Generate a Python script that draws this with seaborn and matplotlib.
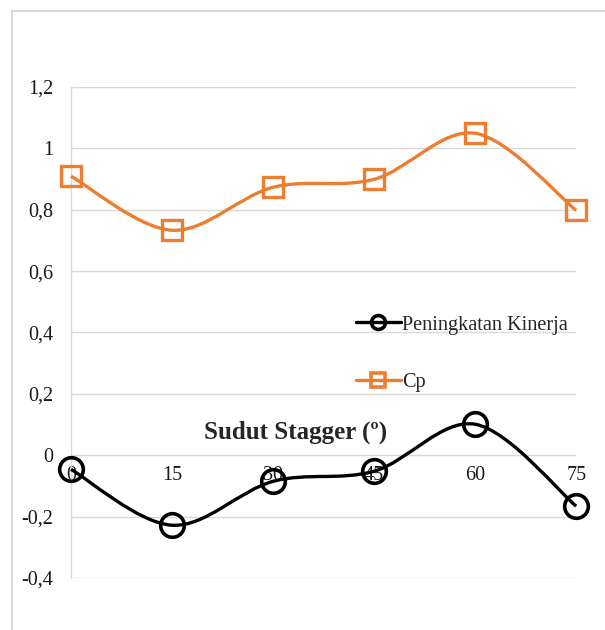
import numpy as np
import pandas as pd
import matplotlib
matplotlib.use("Agg")
import matplotlib.pyplot as plt
from matplotlib.path import Path
from matplotlib.patches import PathPatch, Rectangle
from matplotlib.lines import Line2D
import seaborn as sns

# data
sudut = ["0", "15", "30", "45", "60", "75"]
cp = [0.909, 0.733, 0.873, 0.899, 1.049, 0.798]
kinerja = [-0.046, -0.228, -0.085, -0.052, 0.101, -0.166]

orange = "#ED7D31"

sns.set_style("white")
plt.rcParams["font.family"] = ["Liberation Serif", "DejaVu Serif"]

fig = plt.figure(figsize=(6.05, 6.30), dpi=100)
ax = fig.add_axes([0.1174, 0.0825, 0.8350, 0.7795])

# outer chart border (Excel chart area)
fig.patches.append(Rectangle((12 / 605, -0.05), 1.2, (630 - 11) / 630 + 0.05,
                             transform=fig.transFigure, fill=False,
                             edgecolor="#d9d9d9", linewidth=1.5))

xs = np.arange(len(sudut))


def smooth_path(x, y):
    # Excel-like smoothed line: Catmull-Rom converted to cubic Bezier segments
    x = np.asarray(x, float)
    y = np.asarray(y, float)
    verts = [(x[0], y[0])]
    codes = [Path.MOVETO]
    n = len(x)
    for i in range(n - 1):
        p0 = (x[i - 1], y[i - 1]) if i > 0 else (x[i], y[i])
        p1 = (x[i], y[i])
        p2 = (x[i + 1], y[i + 1])
        p3 = (x[i + 2], y[i + 2]) if i + 2 < n else (x[i + 1], y[i + 1])
        c1 = (p1[0] + (p2[0] - p0[0]) / 6, p1[1] + (p2[1] - p0[1]) / 6)
        c2 = (p2[0] - (p3[0] - p1[0]) / 6, p2[1] - (p3[1] - p1[1]) / 6)
        verts += [c1, c2, p2]
        codes += [Path.CURVE4] * 3
    return Path(verts, codes)


ax.spines["bottom"].set_position(("data", 0))

for vals, col in [(cp, orange), (kinerja, "black")]:
    ax.add_patch(PathPatch(smooth_path(xs, vals), facecolor="none",
                           edgecolor=col, linewidth=2.4, zorder=3, clip_on=False))

df = pd.DataFrame({"x": np.concatenate([xs, xs]),
                   "y": cp + kinerja,
                   "seri": ["Cp"] * 6 + ["Peningkatan Kinerja"] * 6})
sns.lineplot(data=df[df.seri == "Cp"], x="x", y="y", ax=ax, linestyle="",
             marker="s", markersize=14, markerfacecolor="none",
             markeredgecolor=orange, markeredgewidth=2.4, color=orange,
             zorder=4, clip_on=False)
sns.lineplot(data=df[df.seri != "Cp"], x="x", y="y", ax=ax, linestyle="",
             marker="o", markersize=17, markerfacecolor="none",
             markeredgecolor="black", markeredgewidth=2.6, color="black",
             zorder=4, clip_on=False)

ax.set_xlim(0, 5)
ax.set_ylim(-0.4, 1.2)
yt = np.round(np.arange(-0.4, 1.21, 0.2), 1)
ax.set_yticks(yt)
ax.set_yticklabels([("%g" % v).replace(".", ",") for v in yt])
ax.set_xticks(xs)
ax.set_xticklabels(sudut)
ax.grid(axis="y", color="#d9d9d9", linewidth=1)
ax.grid(axis="x", visible=False)
ax.set_xlabel("")
ax.set_ylabel("")
ax.tick_params(axis="both", length=0, labelsize=14.5, labelcolor="#1a1a1a")
ax.tick_params(axis="y", pad=13)
ax.tick_params(axis="x", pad=8)
for s in ["top", "right", "bottom"]:
    ax.spines[s].set_visible(False)
ax.spines["left"].set_color("#d9d9d9")
ax.spines["left"].set_linewidth(1)

ax.text(2.22, 0.075, "Sudut Stagger (º)", fontsize=18, fontweight="bold",
        ha="center", va="center")

handles = [Line2D([], [], color="black", linewidth=2.4, marker="o", markersize=10,
                  markerfacecolor="none", markeredgewidth=2.6),
           Line2D([], [], color=orange, linewidth=2.4, marker="s", markersize=9.5,
                  markerfacecolor="none", markeredgewidth=2.6)]
ax.legend(handles, ["Peningkatan Kinerja", "Cp"], loc="upper left",
          bbox_to_anchor=(0.527, 0.572), frameon=False, fontsize=14.6,
          handlelength=2.25, handletextpad=0.05, labelspacing=1.9)

fig.savefig("out.png", dpi=100)
